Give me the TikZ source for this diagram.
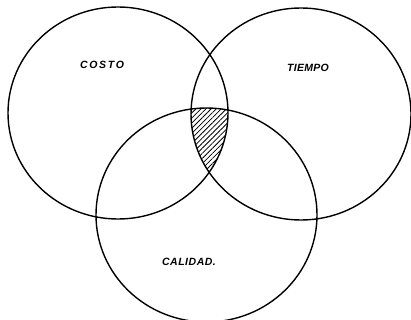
\documentclass[tikz,border=0pt]{standalone}
\usepackage{fontspec}
\setmainfont{Liberation Sans}
\usetikzlibrary{patterns.meta}
\tikzset{
  ring/.style={draw=black, line width=1.4pt},
  lbl/.style={font=\bfseries\itshape\fontsize{10.5}{11}\selectfont, inner sep=0pt, anchor=center},
  hatch/.style={pattern={Lines[angle=45, distance=3.6pt, line width=0.8pt]}, pattern color=black}
}
\begin{document}
\begin{tikzpicture}[x=1pt, y=-1pt]
  \useasboundingbox (0,0) rectangle (411,320);
  % hatched common region
  \begin{scope}
    \clip (118,113) ellipse [x radius=110, y radius=106];
    \clip (301,114) ellipse [x radius=110, y radius=106];
    \fill[hatch] (206.5,215) ellipse [x radius=110.5, y radius=107];
  \end{scope}
  % the three sets
  \draw[ring] (118,113) ellipse [x radius=110, y radius=106];
  \draw[ring] (301,114) ellipse [x radius=110, y radius=106];
  \draw[ring] (206.5,215) ellipse [x radius=110.5, y radius=107];
  % labels
  \node[lbl] (costo) at (102,65) {\addfontfeatures{LetterSpace=16}COSTO};
  \node[lbl] (tiempo) at (308,68) {\addfontfeatures{LetterSpace=3}TIEMPO};
  \node[lbl] (calidad) at (189,262) {\addfontfeatures{LetterSpace=5}CALIDAD.};
\end{tikzpicture}
\end{document}
